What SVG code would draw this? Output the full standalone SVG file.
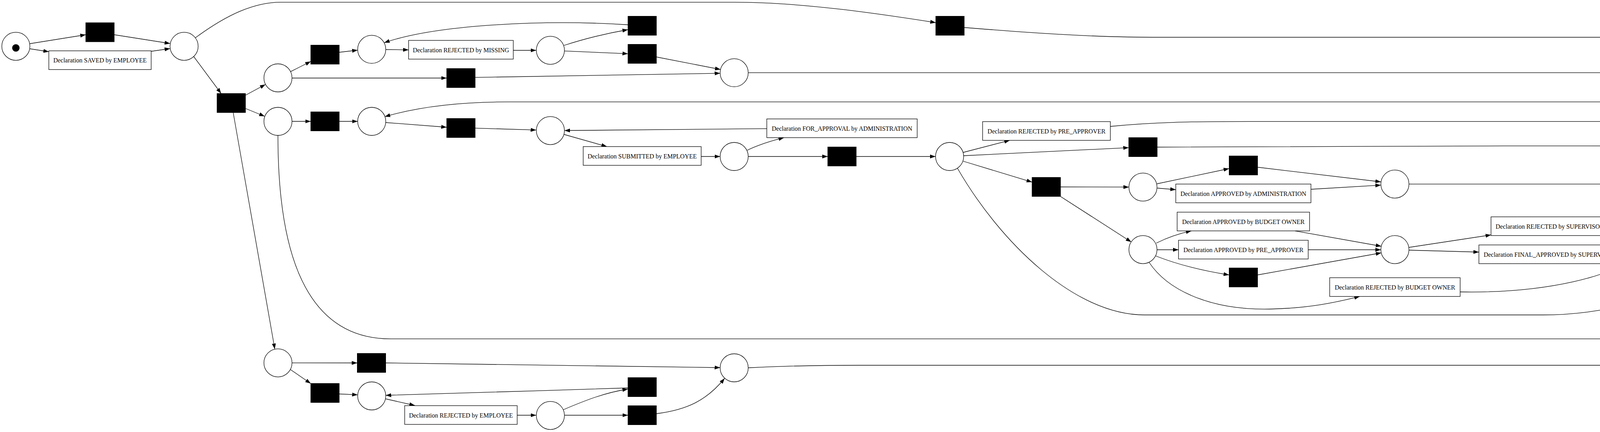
<svg xmlns="http://www.w3.org/2000/svg" width="6354" height="1107" viewBox="0 0 6354 1107">
<style>
.e{fill:none;stroke:#000;stroke-width:1.3;marker-end:url(#arr)}
.p{fill:#fff;stroke:#000;stroke-width:1.3}
.t{fill:#000;stroke:#000;stroke-width:1}
.l{fill:#fff;stroke:#000;stroke-width:1.3}
.tx{font-family:"Liberation Serif","Times New Roman",serif;font-size:16px;text-anchor:middle;fill:#000}
</style>
<defs>
<marker id="arr" viewBox="0 0 14 10" refX="14" refY="5" markerWidth="14" markerHeight="10" markerUnits="userSpaceOnUse" orient="auto"><path d="M0,0 L14,5 L0,10 z" fill="#000"/></marker>
</defs>
<rect width="6354" height="1107" fill="#fff"/>
<g id="connectors">
<path class="e" d="M76,112 L219.5,89"/>
<path class="e" d="M76.5,125 L125,132.5"/>
<path class="e" d="M292.5,89 L435.5,111.5"/>
<path class="e" d="M387,131.5 L435.5,124.5"/>
<path class="e" d="M500,97 C580,38 650,5.6 720,5.6 L1880,5.6 C2050,5.6 2250,35 2395.5,58"/>
<path class="e" d="M2468.5,70.5 C2650,85 2800,95.5 2950,95.5 L6060,95.5 C6140,95.5 6210,118 6269,140"/>
<path class="e" d="M496,145 L566,239.5"/>
<path class="e" d="M628.5,244 L679.5,216.5"/>
<path class="e" d="M628.5,278 L677.5,298"/>
<path class="e" d="M597,288.5 L703.5,894.5"/>
<path class="e" d="M743.7,183.6 L795.5,157.5"/>
<path class="e" d="M747.6,200 L1143.5,200"/>
<path class="e" d="M868.5,134 L915.5,128.5"/>
<path class="e" d="M987.6,127 L1046,127.8"/>
<path class="e" d="M1607.5,63.5 C1400,50 1120,62 983.5,109.5"/>
<path class="e" d="M1314,129 L1372.5,129"/>
<path class="e" d="M1443.5,116.5 C1500,98 1550,86 1607.5,76"/>
<path class="e" d="M1445.3,130.6 L1607.5,137.7"/>
<path class="e" d="M1680.5,146 L1844.5,178"/>
<path class="e" d="M1216.5,198.4 L1843.5,187.8"/>
<path class="e" d="M1915.5,186.4 L5230,186.4 C5380,188 5500,225 5602.5,270"/>
<path class="e" d="M747.6,311 L795.5,311"/>
<path class="e" d="M868.5,311 L915.5,311"/>
<path class="e" d="M987.5,314 L1143.5,326"/>
<path class="e" d="M4824.5,279 C4700,268 4600,261.2 4400,261.2 L1300,261.2 C1150,261.2 1050,280 985,299"/>
<path class="e" d="M1216.5,328.3 L1372.5,333.2"/>
<path class="e" d="M1444,344.5 L1553.6,375.6"/>
<path class="e" d="M1963,329.7 L1445.3,334.5"/>
<path class="e" d="M1795,401 L1843.5,401"/>
<path class="e" d="M1913,385 C1940,372 1970,362 2007,352.7"/>
<path class="e" d="M1915.5,401 L2119,401"/>
<path class="e" d="M2192,401 L2395,401"/>
<path class="e" d="M711.5,347 C711.5,600 760,868.4 1000,868.4 L4196,868.4"/>
<path class="e" d="M4269,858 C4500,795 4750,660 4957,414"/>
<path class="e" d="M2466,390.5 L2585,359.6"/>
<path class="e" d="M2467,399 L2889.5,378.4"/>
<path class="e" d="M2465.5,413 L2642,466.6"/>
<path class="e" d="M2451,431 C2560,620 2750,807 2930,807 L3950,807 C4150,807 4300,740 4433,687.6"/>
<path class="e" d="M2842,324 C2950,313 3050,311.3 3200,311.3 L4200,311.3 C4450,313 4600,340 4706.5,363.6"/>
<path class="e" d="M2962.5,377 C3200,374 4400,373 4705,374"/>
<path class="e" d="M2715,479 L2890,479.4"/>
<path class="e" d="M2715,503.5 L2896,620"/>
<path class="e" d="M2962,471 L3146.5,432"/>
<path class="e" d="M2962.5,482 L3010,486"/>
<path class="e" d="M3219.5,428.5 L3535,466"/>
<path class="e" d="M3356.5,485 L3535,474.4"/>
<path class="e" d="M3607,471.6 L4450.5,471.6"/>
<path class="e" d="M2960,623 C2990,608 3020,598 3050,591.6"/>
<path class="e" d="M2962,640 L3017,640"/>
<path class="e" d="M2959,656 C3020,680 3080,694 3146.5,704.5"/>
<path class="e" d="M2941.5,672 C2990,745 3100,795 3250,792 C3350,790 3420,775 3481,759.6"/>
<path class="e" d="M3315,591.6 L3536,631"/>
<path class="e" d="M3349,640 L3535,640"/>
<path class="e" d="M3219.5,704.5 L3536,648"/>
<path class="e" d="M3606.5,634 L3817,602"/>
<path class="e" d="M3607,641 L3786,646"/>
<path class="e" d="M4118,600 L4197,610.6"/>
<path class="e" d="M4149,627.6 L4196.5,620"/>
<path class="e" d="M3738,748 C3950,752 4140,710 4208,643"/>
<path class="e" d="M4265.5,599 L4450.5,494.5"/>
<path class="e" d="M4523.5,457.5 L4707,386.5"/>
<path class="e" d="M4520.6,639.6 C4600,575 4680,500 4721,404"/>
<path class="e" d="M4770,352.5 L4824.5,308.5"/>
<path class="e" d="M4777,375 L4824.5,376.3"/>
<path class="e" d="M4897.5,380 L4945,383.5"/>
<path class="e" d="M5000.6,356 C5040,290 5100,255 5185,248.5"/>
<path class="e" d="M5015.5,372 L5111,343.8"/>
<path class="e" d="M5017.5,387 L5214,391"/>
<path class="e" d="M5013,404 C5040,420 5070,432 5102,439.8"/>
<path class="e" d="M5315,256 C5400,270 5450,282 5487,303"/>
<path class="e" d="M5422,319 L5483.5,319"/>
<path class="e" d="M5287,387 C5380,375 5440,357 5487,335"/>
<path class="e" d="M5414,439.8 C5450,420 5480,395 5501,350"/>
<path class="e" d="M5554.5,310 L5602.5,298"/>
<path class="e" d="M5675.5,288.7 L5723,288.7"/>
<path class="e" d="M5794,281 L5843,270"/>
<path class="e" d="M5794,297.5 L5873.5,316"/>
<path class="e" d="M5977,269 L6026.5,279.5"/>
<path class="e" d="M5946.5,315.6 L6026.5,298"/>
<path class="e" d="M6098,288.7 L6145,288.7"/>
<path class="e" d="M6206,264.5 L6279.5,185.5"/>
<path class="e" d="M1915.5,942.5 C2000,938 2100,936 2200,936 L5900,936 C6000,936 6100,750 6174,314"/>
<path class="e" d="M988,930 C1300,934 1600,938 1843.5,942"/>
<path class="e" d="M747.6,929.8 L914.5,930"/>
<path class="e" d="M743.5,947 L795.5,982.7"/>
<path class="e" d="M868.5,1009.5 L915.5,1011.7"/>
<path class="e" d="M987,1022 L1062,1039"/>
<path class="e" d="M1324,1064 L1372.5,1064"/>
<path class="e" d="M1442,1050 C1500,1025 1550,1006 1607.5,997"/>
<path class="e" d="M1445.5,1064 L1607.5,1064"/>
<path class="e" d="M1607.5,994 C1400,1000 1200,1008 987.5,1013"/>
<path class="e" d="M1680.5,1060 C1760,1050 1810,1025 1855,969.5"/>
</g>
<g id="p0"><circle class="p" cx="40.6" cy="118.6" r="36"/><circle cx="40.6" cy="122.8" r="9.5" fill="#000"/></g>
<g id="p1"><circle class="p" cx="471.3" cy="118.6" r="36"/></g>
<g id="p2"><circle class="p" cx="711.6" cy="199.5" r="36"/></g>
<g id="p3"><circle class="p" cx="711.6" cy="311" r="36"/></g>
<g id="p4"><circle class="p" cx="951.6" cy="126.4" r="36"/></g>
<g id="p5"><circle class="p" cx="951.6" cy="311" r="36"/></g>
<g id="p6"><circle class="p" cx="711.6" cy="929.8" r="36"/></g>
<g id="p7"><circle class="p" cx="951.6" cy="1014.5" r="36"/></g>
<g id="p8"><circle class="p" cx="1409" cy="128.8" r="36"/></g>
<g id="p9"><circle class="p" cx="1879.5" cy="186.4" r="36"/></g>
<g id="p10"><circle class="p" cx="1409" cy="334.6" r="36"/></g>
<g id="p11"><circle class="p" cx="1879.5" cy="401" r="36"/></g>
<g id="p12"><circle class="p" cx="1879.5" cy="942.5" r="36"/></g>
<g id="p13"><circle class="p" cx="1409" cy="1064.6" r="36"/></g>
<g id="p14"><circle class="p" cx="2431" cy="401" r="36"/></g>
<g id="p15"><circle class="p" cx="2926" cy="479.4" r="36"/></g>
<g id="p16"><circle class="p" cx="2926" cy="639.6" r="36"/></g>
<g id="p17"><circle class="p" cx="3571" cy="471.6" r="36"/></g>
<g id="p18"><circle class="p" cx="3571" cy="639.6" r="36"/></g>
<g id="p19"><circle class="p" cx="4232" cy="615.6" r="36"/></g>
<g id="p20"><circle class="p" cx="4741" cy="374" r="36"/></g>
<g id="p21"><circle class="p" cx="4981" cy="386.9" r="36"/></g>
<g id="p22"><circle class="p" cx="5519.5" cy="319" r="36"/></g>
<g id="p23"><circle class="p" cx="5759" cy="288.7" r="36"/></g>
<g id="p24"><circle class="p" cx="6062" cy="288.7" r="36"/></g>
<g id="p25"><circle class="p" cx="6307" cy="155" r="41"/><circle class="p" cx="6307" cy="155" r="37"/><rect x="6297.5" y="152.5" width="19" height="19" fill="#000"/></g>
<g id="t1"><rect class="t" x="219.5" y="58.1" width="73" height="49"/></g>
<g id="t2"><rect class="t" x="555.5" y="239.5" width="73" height="49"/></g>
<g id="t3"><rect class="t" x="795.5" y="115.5" width="73" height="49"/></g>
<g id="t4"><rect class="t" x="795.5" y="286.5" width="73" height="49"/></g>
<g id="t5"><rect class="t" x="914.5" y="905.5" width="73" height="49"/></g>
<g id="t6"><rect class="t" x="795.5" y="982.5" width="73" height="49"/></g>
<g id="t7"><rect class="t" x="1607.5" y="41.5" width="73" height="49"/></g>
<g id="t8"><rect class="t" x="1607.5" y="113.5" width="73" height="49"/></g>
<g id="t9"><rect class="t" x="1143.5" y="175.5" width="73" height="49"/></g>
<g id="t10"><rect class="t" x="1143.5" y="303.5" width="73" height="49"/></g>
<g id="t11"><rect class="t" x="2119" y="376.5" width="73" height="49"/></g>
<g id="t12"><rect class="t" x="1607.5" y="967.5" width="73" height="49"/></g>
<g id="t13"><rect class="t" x="1607.5" y="1039.5" width="73" height="49"/></g>
<g id="t14"><rect class="t" x="2395.5" y="41.5" width="73" height="49"/></g>
<g id="t15"><rect class="t" x="2889.5" y="352.5" width="73" height="49"/></g>
<g id="t16"><rect class="t" x="2642" y="454.5" width="73" height="49"/></g>
<g id="t17"><rect class="t" x="3146.5" y="399.5" width="73" height="49"/></g>
<g id="t18"><rect class="t" x="3146.5" y="686.5" width="73" height="49"/></g>
<g id="t19"><rect class="t" x="4196" y="843.5" width="73" height="49"/></g>
<g id="t20"><rect class="t" x="4450.5" y="447" width="73" height="49"/></g>
<g id="t21"><rect class="t" x="4824.5" y="257.5" width="73" height="49"/></g>
<g id="t22"><rect class="t" x="4824.5" y="352" width="73" height="49"/></g>
<g id="t23"><rect class="t" x="5214" y="367" width="73" height="49"/></g>
<g id="t24"><rect class="t" x="5602.5" y="265" width="73" height="49"/></g>
<g id="t25"><rect class="t" x="5873.5" y="300.5" width="73" height="49"/></g>
<g id="t26"><rect class="t" x="6145" y="265" width="73" height="49"/></g>
<g id="l1"><rect class="l" x="125" y="130.3" width="262" height="48"/><text class="tx" x="256" y="160.3">Declaration SAVED by EMPLOYEE</text></g>
<g id="l2"><rect class="l" x="1046" y="103.5" width="268" height="48"/><text class="tx" x="1180" y="133.5">Declaration REJECTED by MISSING</text></g>
<g id="l3"><rect class="l" x="1493" y="375.6" width="302" height="48"/><text class="tx" x="1644" y="405.6">Declaration SUBMITTED by EMPLOYEE</text></g>
<g id="l4"><rect class="l" x="1963" y="304.7" width="385" height="48"/><text class="tx" x="2155.5" y="334.7">Declaration FOR_APPROVAL by ADMINISTRATION</text></g>
<g id="l5"><rect class="l" x="1036" y="1039.5" width="288" height="48"/><text class="tx" x="1180" y="1069.5">Declaration REJECTED by EMPLOYEE</text></g>
<g id="l6"><rect class="l" x="2515.5" y="311.6" width="327" height="48"/><text class="tx" x="2679" y="341.6">Declaration REJECTED by PRE_APPROVER</text></g>
<g id="l7"><rect class="l" x="3010" y="471.6" width="346" height="48"/><text class="tx" x="3183" y="501.6">Declaration APPROVED by ADMINISTRATION</text></g>
<g id="l8"><rect class="l" x="3013.5" y="543.6" width="339" height="48"/><text class="tx" x="3183" y="573.6">Declaration APPROVED by BUDGET OWNER</text></g>
<g id="l9"><rect class="l" x="3017" y="615.6" width="332" height="48"/><text class="tx" x="3183" y="645.6">Declaration APPROVED by PRE_APPROVER</text></g>
<g id="l10"><rect class="l" x="3817" y="555.6" width="301" height="48"/><text class="tx" x="3967.5" y="585.6">Declaration REJECTED by SUPERVISOR</text></g>
<g id="l11"><rect class="l" x="3786" y="627.6" width="363" height="48"/><text class="tx" x="3967.5" y="657.6">Declaration FINAL_APPROVED by SUPERVISOR</text></g>
<g id="l12"><rect class="l" x="3404" y="711.6" width="334" height="48"/><text class="tx" x="3571" y="741.6">Declaration REJECTED by BUDGET OWNER</text></g>
<g id="l13"><rect class="l" x="4316" y="639.6" width="341" height="48"/><text class="tx" x="4486.5" y="669.6">Declaration REJECTED by ADMINISTRATION</text></g>
<g id="l14"><rect class="l" x="5185" y="223.8" width="130" height="48"/><text class="tx" x="5250" y="253.8">Request Payment</text></g>
<g id="l15"><rect class="l" x="5078" y="295.8" width="344" height="48"/><text class="tx" x="5250" y="325.8">Declaration FOR_APPROVAL by SUPERVISOR</text></g>
<g id="l16"><rect class="l" x="5065.5" y="439.8" width="369" height="48"/><text class="tx" x="5250" y="469.8">Declaration FOR_APPROVAL by PRE_APPROVER</text></g>
<g id="l17"><rect class="l" x="5843" y="229.4" width="134" height="48"/><text class="tx" x="5910" y="259.4">Payment Handled</text></g>
</svg>
